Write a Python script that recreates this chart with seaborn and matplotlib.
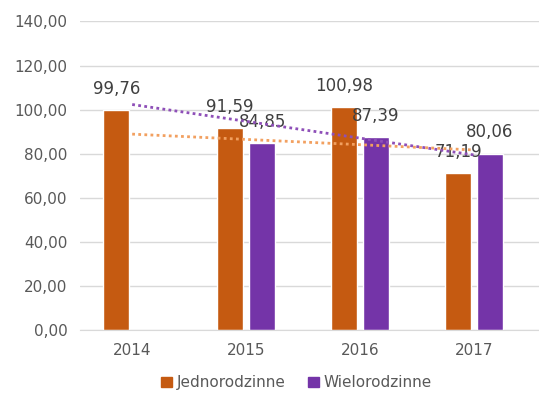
import numpy as np
import pandas as pd
import matplotlib
matplotlib.use("Agg")
import matplotlib.pyplot as plt
import seaborn as sns

# Data
years = ["2014", "2015", "2016", "2017"]
jednorodzinne = [99.76, 91.59, 100.98, 71.19]
wielorodzinne = [np.nan, 84.85, 87.39, 80.06]
series = ["Jednorodzinne", "Wielorodzinne"]
colors = {"Jednorodzinne": "#C55A11", "Wielorodzinne": "#7434A8"}
trend_colors = {"Jednorodzinne": "#8E4FB8", "Wielorodzinne": "#F2A060"}

df = pd.DataFrame({
    "rok": years * 2,
    "seria": [series[0]] * 4 + [series[1]] * 4,
    "wartosc": jednorodzinne + wielorodzinne,
})

sns.set_style("white")
fig = plt.figure(figsize=(5.39, 4.05), dpi=100)
ax = fig.add_axes([0.148, 0.185, 0.852, 0.762])

sns.barplot(data=df, x="rok", y="wartosc", hue="seria", palette=colors,
            width=0.56, gap=0.2, saturation=1, legend=False, ax=ax)

fmt = lambda v: f"{v:.2f}".replace(".", ",")
for cont in ax.containers:
    ax.bar_label(cont, labels=[fmt(v) if not np.isnan(v) else "" for v in cont.datavalues],
                 padding=9, fontsize=12, color="#404040")

# linear trend lines (Excel style), fitted on available points
xs = np.arange(len(years))
for name, vals in [("Jednorodzinne", jednorodzinne), ("Wielorodzinne", wielorodzinne)]:
    v = np.array(vals, dtype=float)
    ok = ~np.isnan(v)
    k, b = np.polyfit(xs[ok], v[ok], 1)
    ax.plot(xs, k * xs + b, linestyle=(0, (1, 1.2)), linewidth=2,
            color=trend_colors[name], zorder=3)

ax.set_ylim(0, 140)
ax.set_xlim(-0.46, 3.57)
ax.set_yticks(np.arange(0, 141, 20))
ax.set_yticklabels([fmt(t) for t in np.arange(0, 141, 20)])
ax.yaxis.grid(True, color="#D9D9D9", linewidth=1)
ax.set_axisbelow(True)
for s in ["top", "right", "left"]:
    ax.spines[s].set_visible(False)
ax.spines["bottom"].set_color("#D9D9D9")
ax.tick_params(axis="both", length=0, labelsize=11, labelcolor="#595959", pad=9)
ax.set_xlabel("")
ax.set_ylabel("")

handles = [plt.Rectangle((0, 0), 1, 1, color=colors[s]) for s in series]
fig.legend(handles, series, loc="center", bbox_to_anchor=(0.55, 0.055), ncol=2,
           frameon=False, fontsize=11, labelcolor="#595959",
           handlelength=0.7, handleheight=0.7, handletextpad=0.3, columnspacing=1.5)

fig.savefig("out.png", dpi=100)
